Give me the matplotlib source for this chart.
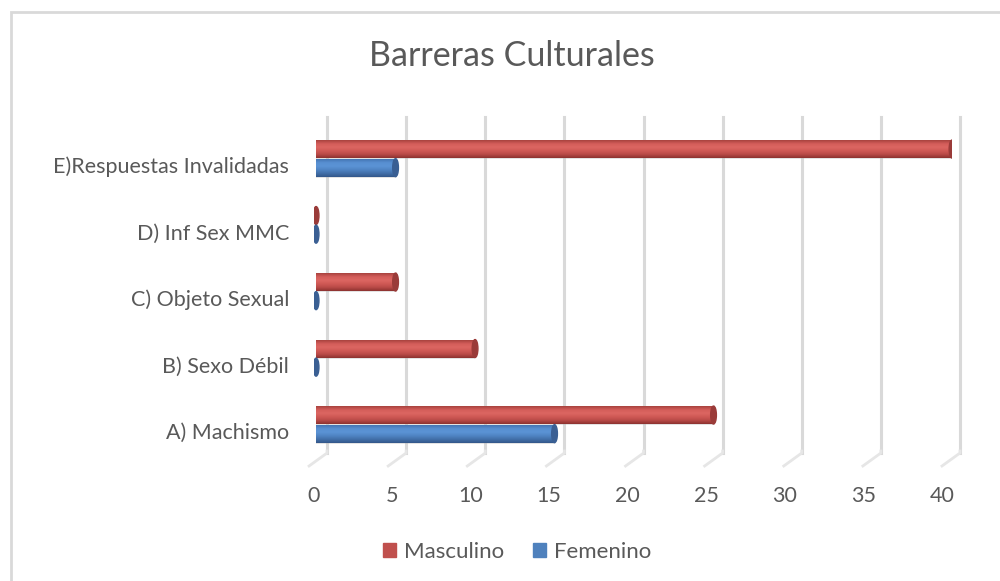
import matplotlib

matplotlib.use("Agg")
import matplotlib.pyplot as plt
import matplotlib.transforms as mtransforms
import numpy as np
from matplotlib.colors import LinearSegmentedColormap
from matplotlib.patches import Ellipse, Patch, Rectangle

categories = ["A) Machismo", "B) Sexo Débil", "C) Objeto Sexual",
              "D) Inf Sex MMC", "E)Respuestas Invalidadas"]
masculino = [25, 10, 5, 0, 40]
femenino = [15, 0, 0, 0, 5]
xticks = [0, 5, 10, 15, 20, 25, 30, 35, 40]

TEXT = "#595959"
GRID = "#d9d9d9"
plt.rcParams["font.family"] = ["Lato", "DejaVu Sans"]

W, H = 1000, 581
fig = plt.figure(figsize=(W / 100, H / 100), dpi=100)
fig.patch.set_facecolor("white")

# axes box in pixels (left, top, right, bottom)
L, T, R, B = 314, 117, 952, 453
ax = fig.add_axes([L / W, 1 - B / H, (R - L) / W, (B - T) / H])
step = 66.5
for s in ax.spines.values():
    s.set_visible(False)
ax.set_facecolor("none")

# cylinder shading, top -> bottom
red_cm = LinearSegmentedColormap.from_list(
    "r", ["#a8423f", "#d35d59", "#dc6662", "#cf5955", "#b94a47", "#8c3230"])
blue_cm = LinearSegmentedColormap.from_list(
    "b", ["#4475b3", "#5890d2", "#5b93d5", "#4f84c3", "#416fa8", "#33578a"])
grad = np.linspace(0, 1, 64).reshape(-1, 1)

bar_h = 0.27
series = [
    (masculino, 0.24, red_cm, "#9a3b39", "#c0504d"),
    (femenino, -0.04, blue_cm, "#3a5f93", "#4f81bd"),
]
ypos = np.arange(len(categories))

def pxoff(dx, dy=0):
    return mtransforms.offset_copy(ax.transData, fig, x=dx, y=dy, units="dots")

ax.set_xlim(-0.13, 40)
ax.set_ylim(-(B - 431) / step, (431 - T) / step)

# back-wall gridlines plus little floor lines
for v in xticks:
    dx = 11 - 3 * v / 40
    tr = mtransforms.blended_transform_factory(pxoff(dx), ax.transAxes)
    ax.plot([v, v], [0, 1], color=GRID, lw=2.2, transform=tr,
            clip_on=False, zorder=0)
    x0, y0 = tr.transform((v, 0))
    ax.plot([x0, x0, x0 - 18], [y0 + 2, y0, y0 - 13], color="#e6e6e6",
            lw=2, transform=mtransforms.IdentityTransform(),
            clip_on=False, zorder=0)

for vals, off, cm, cap, _ in series:
    for y, v in zip(ypos, vals):
        yc = y + off
        if v > 0:
            # soft shadow under the cylinder
            ax.barh(yc - 0.02, v, height=bar_h, color="#b0b0b0", alpha=0.35,
                    zorder=1)
            ax.imshow(grad, cmap=cm, aspect="auto", interpolation="bilinear",
                      extent=(0, v, yc - bar_h / 2, yc + bar_h / 2), zorder=2)
        ax.add_patch(Ellipse((v, yc), 0.36, bar_h, color=cap, zorder=3))

ax.set_xlim(-0.13, 40)
ax.set_ylim(-(B - 431) / step, (431 - T) / step)

ax.set_yticks(ypos)
ax.set_yticklabels(categories, fontsize=15.5, color=TEXT)
ax.tick_params(axis="y", length=0, pad=18)
ax.set_xticks(xticks)
ax.set_xticklabels([str(v) for v in xticks], fontsize=15.5, color=TEXT)
ax.tick_params(axis="x", length=0, pad=24)
for v, lab in zip(xticks, ax.get_xticklabels()):
    lab.set_transform(lab.get_transform() + mtransforms.Affine2D().translate(
        -3 - 7 * v / 40, 0))

fig.text(0.512, 1 - 56 / H, "Barreras Culturales", ha="center", va="center",
         fontsize=24.5, color=TEXT)

handles = [Patch(color=c, label=n) for n, (_, _, _, _, c) in
           zip(["Masculino", "Femenino"], series)]
fig.legend(handles=handles, loc="center", bbox_to_anchor=(0.517, 1 - 552 / H),
           ncol=2, frameon=False, fontsize=16, labelcolor=TEXT,
           handlelength=0.6, handleheight=0.6, handletextpad=0.35,
           columnspacing=1.3)

# chart area border (runs off the right and bottom edges)
fig.add_artist(Rectangle((10.5 / W, -0.1), 1.1, 1.1 - 11.5 / H,
                         transform=fig.transFigure, fill=False,
                         edgecolor=GRID, lw=2))

fig.savefig("out.png", dpi=100)
